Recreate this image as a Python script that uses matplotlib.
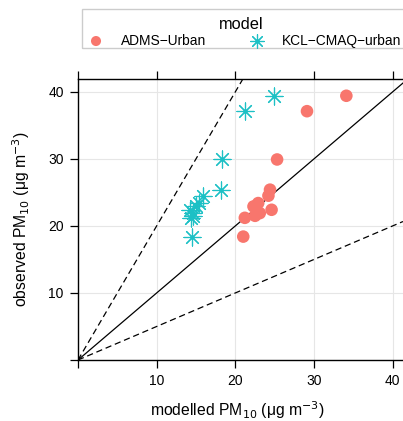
import matplotlib.pyplot as plt
from matplotlib.patches import Rectangle

plt.rcParams['font.family'] = ['Liberation Sans', 'DejaVu Sans']

# observed PM10 at the sites (shared by both models)
observed = [39.4, 37.1, 29.9, 25.4, 24.5, 23.4, 22.9, 22.4, 21.9, 21.5, 21.2, 18.4]
adms_urban = [34.1, 29.1, 25.3, 24.4, 24.2, 22.9, 22.3, 24.6, 23.1, 22.5, 21.2, 21.0]
kcl_cmaq = [24.9, 21.2, 18.3, 18.2, 15.9, 15.4, 15.0, 14.2, 14.6, 14.6, 14.3, 14.5]

ticks = [0, 10, 20, 30, 40]
tick_labels = ["", "10", "20", "30", "40"]

red = "#F8766D"
teal = "#1CC0C5"

fig = plt.figure(figsize=(4.03, 4.21), dpi=100)
ax = fig.add_axes([78 / 403, 61 / 421, 1 - 78 / 403, 281 / 421])

xmax, ymax = 41.3, 41.9
ax.set_xlim(0, xmax)
ax.set_ylim(0, ymax)

for t in ticks[1:]:
    ax.axvline(t, color="#E6E6E6", lw=0.8, zorder=0)
    ax.axhline(t, color="#E6E6E6", lw=0.8, zorder=0)

# 1:1, 2:1 and 1:2 lines
ax.plot([0, xmax], [0, xmax], color="black", lw=0.9, zorder=1)
ax.plot([0, ymax / 2], [0, ymax], color="black", lw=0.9, ls=(0, (5, 3)), zorder=1)
ax.plot([0, xmax], [0, xmax / 2], color="black", lw=0.9, ls=(0, (5, 3)), zorder=1)

pts1 = ax.scatter(adms_urban, observed, s=82, color=red, edgecolors="none",
                  zorder=3, label="ADMS\u2212Urban")
pts2 = ax.scatter(kcl_cmaq, observed, s=150, marker=(8, 2, 0), color=teal,
                  linewidths=0.85, zorder=3, label="KCL\u2212CMAQ\u2212urban")

ax.spines["right"].set_visible(False)
for s in ["left", "bottom", "top"]:
    ax.spines[s].set_linewidth(1.0)

ax.set_xticks(ticks)
ax.set_xticklabels(tick_labels)
ax.set_yticks(ticks)
ax.set_yticklabels(tick_labels)
ax.tick_params(direction="out", length=5.8, width=0.9, labelsize=10,
               top=True, pad=4.5)

ax.set_xlabel("modelled PM$_{10}$ (\u03bcg m$^{-3}$)", fontsize=11.3)
ax.set_ylabel("observed PM$_{10}$ (\u03bcg m$^{-3}$)", fontsize=11.3)
ax.xaxis.set_label_coords(0.49, -0.139)
ax.yaxis.set_label_coords(-0.1415, 0.5)

fig.patches.append(Rectangle((82 / 403, 1 - 48 / 421), 0.9, 39 / 421,
                             transform=fig.transFigure, fill=False,
                             edgecolor="#CCCCCC", lw=1.0))
leg = fig.legend(handles=[pts1, pts2], loc="upper left",
                 bbox_to_anchor=(74 / 403, 1 - 9 / 421), ncol=2, frameon=False,
                 title="model", fontsize=9.9, title_fontsize=11.8,
                 handletextpad=0.8, columnspacing=2.7, borderpad=0.1,
                 labelspacing=0.2, markerscale=0.8)
leg._legend_box.sep = 1

fig.savefig("out.png", dpi=100)
